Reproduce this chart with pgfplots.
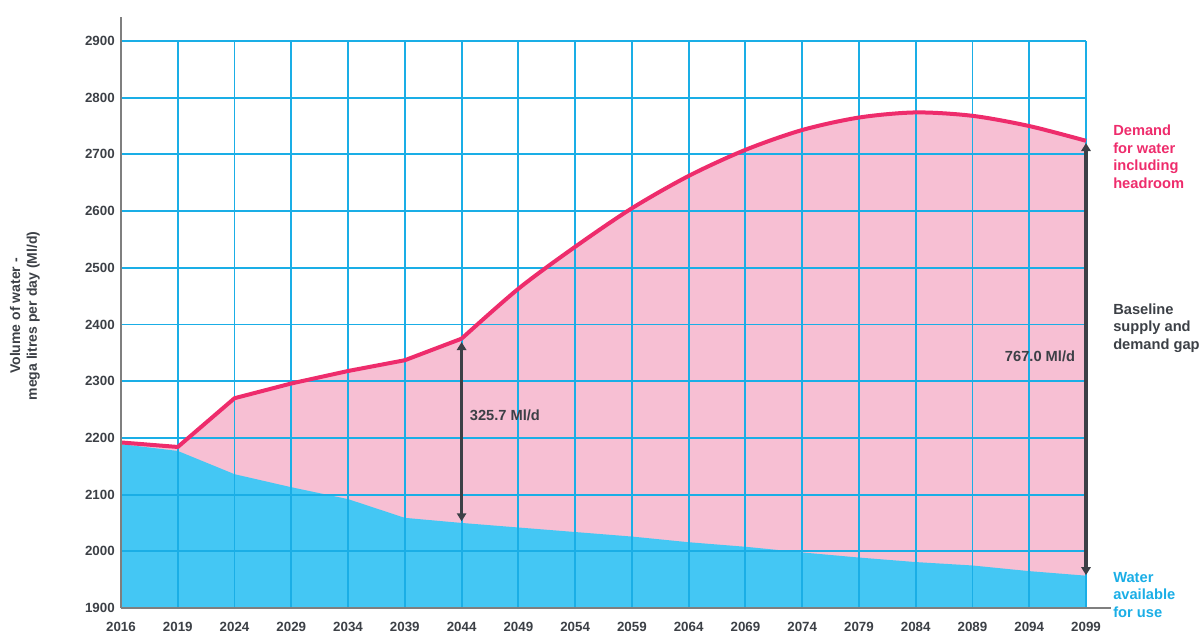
\documentclass[border=0pt]{standalone}
\usepackage{fontspec}
\setmainfont{Liberation Sans}
\usepackage{pgfplots}
\pgfplotsset{compat=1.18}
\usetikzlibrary{arrows.meta}
\definecolor{gridblue}{HTML}{1AAEE6}
\definecolor{fillblue}{HTML}{44C7F4}
\definecolor{fillpink}{HTML}{F7BFD3}
\definecolor{linered}{HTML}{EE2C6C}
\definecolor{axisgray}{HTML}{7F7F7F}
\definecolor{textdark}{HTML}{3C4046}
\definecolor{textblue}{HTML}{1AAEE6}
\begin{document}
\begin{tikzpicture}
\pgfplotsset{set layers}
\begin{axis}[
  scale only axis, width=723.75pt, height=425.25pt,
  at={(0,0)}, anchor=south west,
  xmin=0, xmax=17, ymin=1900, ymax=2900,
  xtick={0,...,17},
  xticklabels={2016,2019,2024,2029,2034,2039,2044,2049,2054,2059,2064,2069,2074,2079,2084,2089,2094,2099},
  ytick={1900,2000,...,2900},
  grid=major, major grid style={gridblue, line width=1.4pt},
  axis line style={draw=none},
  major tick length=0pt,
  tick label style={font=\bfseries\fontsize{10}{12}\selectfont, text=textdark},
  /pgf/number format/assume math mode=true,
  /pgf/number format/1000 sep={},
  yticklabel style={anchor=east, inner sep=0pt, xshift=-4.5pt},
  xticklabel style={anchor=north, inner sep=0pt, yshift=-10.5pt},
  clip=false,
]
% pink area under demand
\addplot[on layer=axis background, fill=fillpink, draw=none] coordinates {
 (0,2192) (1,2184) (2,2270) (3,2296) (4,2318) (5,2337) (6,2375)} \closedcycle;
\addplot[on layer=axis background, fill=fillpink, draw=none, smooth] coordinates {
 (6,2375) (7,2463) (8,2537) (9,2605) (10,2662) (11,2708) (12,2743) (13,2765) (14,2774) (15,2768) (16,2750) (17,2724)} \closedcycle;
% blue supply area
\addplot[on layer=axis background, fill=fillblue, draw=none] coordinates {
 (0,2189) (1,2177) (2,2136) (3,2113) (4,2092) (5,2059) (6,2050) (7,2042) (8,2034) (9,2026) (10,2016) (11,2008) (12,1998) (13,1989) (14,1981) (15,1975) (16,1965) (17,1957)} \closedcycle;
% demand line
\addplot[linered, line width=3pt, line join=round] coordinates {
 (0,2192) (1,2184) (2,2270) (3,2296) (4,2318) (5,2337) (6,2375)};
\addplot[linered, line width=3pt, smooth] coordinates {
 (6,2375) (7,2463) (8,2537) (9,2605) (10,2662) (11,2708) (12,2743) (13,2765) (14,2774) (15,2768) (16,2750) (17,2724)};
% gap arrows
\addplot[textdark, line width=2.8pt, {Triangle[length=6pt,width=7pt]}-{Triangle[length=6pt,width=7pt]}] coordinates {(6,2053) (6,2369)};
\addplot[textdark, line width=2.8pt, {Triangle[length=6pt,width=7pt]}-{Triangle[length=6pt,width=7pt]}] coordinates {(17,1958) (17,2720)};
\node[anchor=west, inner sep=0pt, text=textdark, font=\bfseries\fontsize{11}{13}\selectfont, xshift=6pt] at (axis cs:6,2239) {325.7 Ml/d};
\node[anchor=east, inner sep=0pt, text=textdark, font=\bfseries\fontsize{11}{13}\selectfont, xshift=-8pt] at (axis cs:17,2344) {767.0 Ml/d};
\coordinate (dem) at (axis cs:17,2696);
\coordinate (gap) at (axis cs:17,2394);
\coordinate (sup) at (axis cs:17,1923);
\end{axis}
% axis lines
\draw[axisgray, line width=1.3pt] (0,0) -- (0,443.25pt);
\draw[axisgray, line width=1.3pt] (0,0) -- (742.5pt,0);
% y label
\node[rotate=90, align=center, text=textdark, font=\bfseries\fontsize{10.5}{12.6}\selectfont] at (-72pt,219pt) {Volume of water -\\mega litres per day (Ml/d)};
% right annotations
\node[anchor=west, align=left, inner sep=0pt, text=linered, font=\bfseries\fontsize{11}{13.1}\selectfont] at ([xshift=20.25pt]dem) {Demand\\for water\\including\\headroom};
\node[anchor=west, align=left, inner sep=0pt, text=textdark, font=\bfseries\fontsize{11}{13.1}\selectfont] at ([xshift=20.25pt]gap) {Baseline\\supply and\\demand gap};
\node[anchor=west, align=left, inner sep=0pt, text=textblue, font=\bfseries\fontsize{11}{13.1}\selectfont] at ([xshift=20.25pt]sup) {Water\\available\\for use};
\pgfresetboundingbox
\useasboundingbox (-90.75pt,-18pt) rectangle (810pt,456pt);
\end{tikzpicture}
\end{document}
